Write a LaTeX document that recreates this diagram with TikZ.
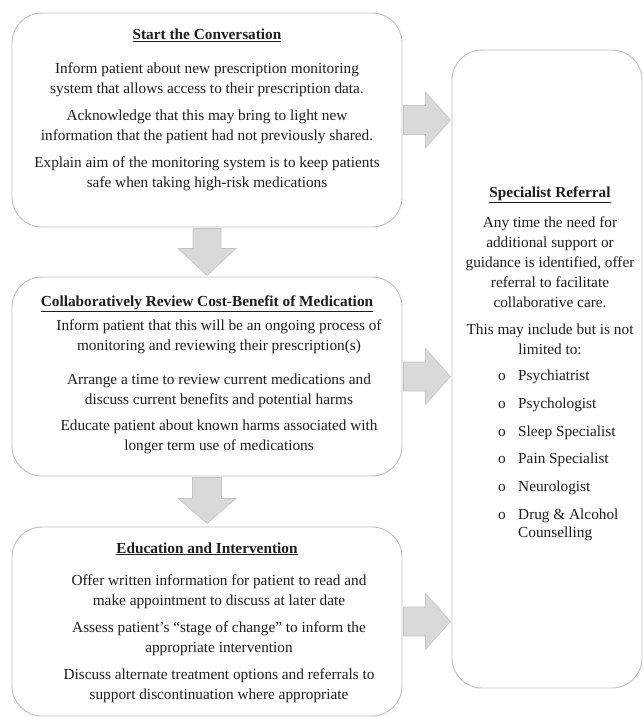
\documentclass[tikz,border=0pt]{standalone}
\usepackage{fontspec}
\setmainfont{Liberation Serif}
\usetikzlibrary{positioning}
\definecolor{BoxLine}{RGB}{191,191,191}
\definecolor{ArrFill}{RGB}{217,217,217}
\definecolor{ArrLine}{RGB}{196,196,196}
\definecolor{TextInk}{RGB}{30,30,30}
\newcommand\refbullet{\makebox[20pt][l]{o}}

\begin{document}
\begin{tikzpicture}[
  x=1pt, y=-1pt,
  box/.style={rounded corners=30pt, draw=BoxLine, line width=0.9pt, fill=white, minimum width=390pt},
  head/.style={inner sep=0pt, text=TextInk, font=\fontsize{15.3}{20}\selectfont\bfseries},
  body/.style={inner sep=0pt, align=center, text=TextInk, font=\fontsize{15.3}{20}\selectfont},
  list/.style={inner sep=0pt, align=left, text=TextInk, font=\fontsize{15.3}{20}\selectfont},
  blockarr/.style={fill=ArrFill, draw=ArrLine, line width=0.6pt}
]
\useasboundingbox (0,0) rectangle (643,717);

% boxes
\node[box, minimum height=214pt] (conv) at (207,120) {};
\node[box, minimum height=199pt] (review) at (207,376.5) {};
\node[box, minimum height=189pt] (edu) at (207,621.5) {};
\node[box, minimum width=190pt, minimum height=638pt] (spec) at (547,369) {};

% start the conversation
\node[head, below=16.5pt of conv.north] (convhead) {\underline{Start the Conversation}};
\node[body, below=50pt of conv.north] (convtext) {Inform patient about new prescription monitoring\\
  system that allows access to their prescription data.\\[7pt]
  Acknowledge that this may bring to light new\\
  information that the patient had not previously shared.\\[7pt]
  Explain aim of the monitoring system is to keep patients\\
  safe when taking high-risk medications};

% review cost-benefit
\node[head, below=18.7pt of review.north] (reviewhead) {\underline{Collaboratively Review Cost-Benefit of Medication}};
\node[body, below=43pt of review.north, xshift=12pt] (reviewtext) {Inform patient that this will be an ongoing process of\\
  monitoring and reviewing their prescription(s)\\[14pt]
  Arrange a time to review current medications and\\
  discuss current benefits and potential harms\\[6pt]
  Educate patient about known harms associated with\\
  longer term use of medications};

% education and intervention
\node[head, below=15.7pt of edu.north] (eduhead) {\underline{Education and Intervention}};
\node[body, below=48pt of edu.north, xshift=12pt] (edutext) {Offer written information for patient to read and\\
  make appointment to discuss at later date\\[7pt]
  Assess patient’s “stage of change” to inform the\\
  appropriate intervention\\[7pt]
  Discuss alternate treatment options and referrals to\\
  support discontinuation where appropriate};

% specialist referral
\node[head, below=136.7pt of spec.north, xshift=3pt] (spechead) {\underline{Specialist Referral}};
\node[body, below=166.5pt of spec.north, xshift=3pt] (spectext) {Any time the need for\\
  additional support or\\
  guidance is identified, offer\\
  referral to facilitate\\
  collaborative care.\\[7pt]
  This may include but is not\\
  limited to:};
\node[list, anchor=north west] (speclist) at ([xshift=-49pt, yshift=-320pt]spec.north) {\refbullet Psychiatrist\\[8pt]
  \refbullet Psychologist\\[8pt]
  \refbullet Sleep Specialist\\[7pt]
  \refbullet Pain Specialist\\[8pt]
  \refbullet Neurologist\\[8pt]
  \refbullet Drug \& Alcohol\\[-1.7pt]
  \makebox[20pt]{}Counselling};

% block arrows
\draw[blockarr] (conv.south) +(-14,1) -- +(-14,21) -- +(-29,21) -- +(0,48) -- +(29,21) -- +(14,21) -- +(14,1) -- cycle;
\draw[blockarr] (review.south) +(-14.5,1) -- +(-14.5,22) -- +(-29,22) -- +(0,47) -- +(29,22) -- +(14.5,22) -- +(14.5,1) -- cycle;
\draw[blockarr] (conv.east) +(1,-14.5) -- +(23,-14.5) -- +(23,-28) -- +(48,0) -- +(23,28) -- +(23,14.5) -- +(1,14.5) -- cycle;
\draw[blockarr] (review.east) +(1,-14.5) -- +(23,-14.5) -- +(23,-28) -- +(48,0) -- +(23,28) -- +(23,14.5) -- +(1,14.5) -- cycle;
\draw[blockarr] (edu.east) +(1,-14.5) -- +(23,-14.5) -- +(23,-28) -- +(48,0) -- +(23,28) -- +(23,14.5) -- +(1,14.5) -- cycle;
\end{tikzpicture}
\end{document}
